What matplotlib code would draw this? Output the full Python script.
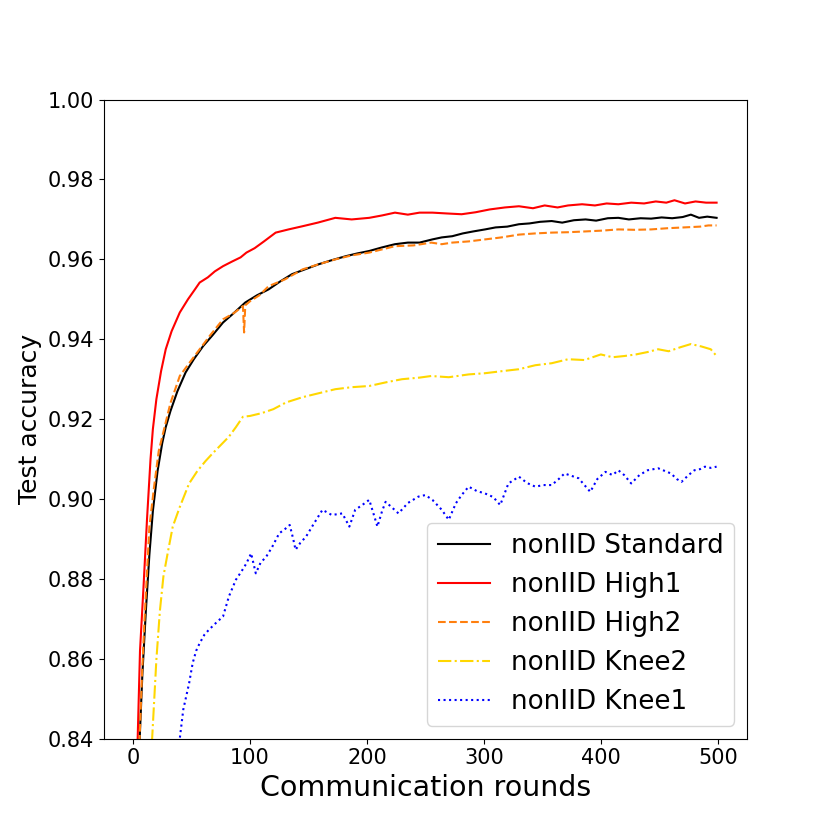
import matplotlib
matplotlib.use("Agg")
import matplotlib.pyplot as plt

# values (round, test accuracy)
std_rounds = [1, 5, 8, 11, 14, 17, 21, 25, 28, 32, 38, 45, 52, 60, 68, 77, 86, 96, 106, 116, 126, 136, 147, 159, 170, 182, 192, 202, 213, 224, 235, 245, 256, 264, 273, 282, 291, 301, 310, 320, 330, 339, 348, 358, 367, 377, 387, 396, 406, 415, 424, 434, 443, 452, 461, 470, 477, 484, 491, 499]
std_acc = [0.78, 0.835, 0.856, 0.872, 0.886, 0.897, 0.907, 0.914, 0.918, 0.922, 0.927, 0.9317, 0.935, 0.9383, 0.941, 0.9442, 0.9465, 0.9492, 0.951, 0.9525, 0.9545, 0.9563, 0.9575, 0.9588, 0.9598, 0.9608, 0.9615, 0.9621, 0.963, 0.9638, 0.9642, 0.9642, 0.965, 0.9655, 0.9658, 0.9665, 0.967, 0.9675, 0.968, 0.9682, 0.9688, 0.969, 0.9694, 0.9696, 0.9692, 0.9698, 0.970, 0.9697, 0.9703, 0.9704, 0.9700, 0.9703, 0.9702, 0.9705, 0.9703, 0.9706, 0.9712, 0.9704, 0.9707, 0.9704]

high1_rounds = [1, 4, 6, 9, 12, 15, 17, 20, 24, 28, 33, 40, 47, 53, 57, 64, 70, 77, 85, 92, 97, 104, 112, 122, 133, 145, 158, 173, 187, 202, 213, 224, 235, 245, 256, 268, 281, 293, 305, 318, 330, 342, 352, 363, 372, 384, 395, 405, 415, 426, 437, 447, 456, 463, 472, 481, 490, 499]
high1_acc = [0.79, 0.84, 0.862, 0.878, 0.895, 0.910, 0.9175, 0.925, 0.932, 0.9375, 0.942, 0.9467, 0.950, 0.9525, 0.9542, 0.9555, 0.957, 0.9583, 0.9595, 0.9605, 0.9617, 0.9628, 0.9645, 0.9667, 0.9675, 0.9683, 0.9692, 0.9704, 0.9700, 0.9704, 0.9710, 0.9717, 0.9712, 0.9717, 0.9717, 0.9715, 0.9713, 0.9718, 0.9725, 0.9730, 0.9733, 0.9728, 0.9735, 0.9730, 0.9735, 0.9738, 0.9735, 0.9740, 0.9738, 0.9742, 0.9740, 0.9745, 0.9742, 0.9748, 0.9740, 0.9745, 0.9742, 0.9742]

high2_rounds = [1, 5, 8, 10, 14, 18, 22, 27, 32, 40, 48, 57, 66, 77, 86, 94, 95, 96, 100, 108, 116, 130, 145, 159, 173, 187, 202, 213, 224, 240, 255, 264, 273, 287, 301, 315, 330, 344, 358, 372, 387, 401, 415, 429, 443, 457, 471, 485, 492, 499]
high2_acc = [0.76, 0.835, 0.858, 0.8706, 0.893, 0.903, 0.912, 0.918, 0.924, 0.9308, 0.934, 0.9375, 0.941, 0.945, 0.9465, 0.9483, 0.9417, 0.9485, 0.9495, 0.951, 0.9533, 0.955, 0.9575, 0.9588, 0.960, 0.961, 0.9617, 0.9625, 0.9633, 0.9635, 0.9642, 0.9638, 0.9642, 0.9645, 0.965, 0.9655, 0.9662, 0.9665, 0.9667, 0.9668, 0.967, 0.9672, 0.9675, 0.9674, 0.9675, 0.9678, 0.968, 0.9682, 0.9685, 0.9685]

knee2_rounds = [1, 10, 16, 20, 23, 26, 30, 34, 40, 48, 55, 62, 68, 75, 82, 88, 94, 100, 110, 120, 131, 145, 159, 173, 187, 202, 216, 230, 245, 255, 270, 287, 301, 315, 330, 344, 358, 372, 386, 400, 410, 420, 430, 440, 449, 458, 468, 477, 486, 494, 499]
knee2_acc = [0.70, 0.80, 0.838, 0.8598, 0.872, 0.8806, 0.887, 0.8931, 0.898, 0.9039, 0.907, 0.9095, 0.9114, 0.9135, 0.9156, 0.918, 0.9206, 0.9208, 0.9215, 0.9225, 0.9242, 0.9255, 0.9265, 0.9275, 0.928, 0.9283, 0.9292, 0.930, 0.9304, 0.9308, 0.9305, 0.9312, 0.9315, 0.932, 0.9325, 0.9335, 0.934, 0.935, 0.9348, 0.9362, 0.9355, 0.9358, 0.9362, 0.9368, 0.9375, 0.937, 0.938, 0.9388, 0.9382, 0.9375, 0.9358]

knee1_rounds = [1, 20, 35, 40, 43, 48, 51, 54, 57, 61, 65, 71, 77, 82, 88, 93, 97, 101, 105, 109, 114, 119, 125, 130, 134, 137, 139, 143, 148, 155, 162, 170, 179, 185, 190, 196, 202, 206, 209, 213, 216, 221, 227, 235, 244, 250, 256, 264, 270, 276, 281, 287, 294, 301, 308, 314, 321, 330, 337, 344, 351, 358, 364, 369, 375, 381, 386, 391, 397, 404, 410, 415, 420, 426, 433, 440, 449, 455, 460, 465, 469, 475, 480, 485, 489, 494, 499]
knee1_acc = [0.70, 0.78, 0.825, 0.840, 0.8473, 0.8539, 0.8589, 0.862, 0.8639, 0.866, 0.8673, 0.869, 0.8706, 0.8756, 0.8798, 0.882, 0.8839, 0.8864, 0.8814, 0.884, 0.8856, 0.888, 0.8914, 0.8925, 0.8935, 0.890, 0.8873, 0.889, 0.8906, 0.894, 0.8973, 0.896, 0.8964, 0.8931, 0.8973, 0.8985, 0.8998, 0.896, 0.8931, 0.897, 0.8993, 0.898, 0.8964, 0.899, 0.9006, 0.9010, 0.8998, 0.8973, 0.8948, 0.8989, 0.901, 0.9031, 0.902, 0.9014, 0.9005, 0.8985, 0.9039, 0.9056, 0.904, 0.9031, 0.9035, 0.9035, 0.905, 0.9064, 0.9058, 0.9052, 0.9035, 0.9018, 0.905, 0.9068, 0.906, 0.9072, 0.906, 0.9039, 0.906, 0.9072, 0.9077, 0.907, 0.9064, 0.905, 0.9043, 0.906, 0.9072, 0.9075, 0.9081, 0.9078, 0.9081]

fig, ax = plt.subplots(figsize=(8.3, 8.3), dpi=100)

ax.plot(std_rounds, std_acc, color='black', linestyle='-', linewidth=1.5, label='nonIID Standard')
ax.plot(high1_rounds, high1_acc, color='red', linestyle='-', linewidth=1.5, label='nonIID High1')
ax.plot(high2_rounds, high2_acc, color='#ff7f0e', linestyle='--', linewidth=1.5, label='nonIID High2')
ax.plot(knee2_rounds, knee2_acc, color='gold', linestyle='-.', linewidth=1.5, label='nonIID Knee2')
ax.plot(knee1_rounds, knee1_acc, color='blue', linestyle=':', linewidth=1.5, label='nonIID Knee1')

ax.set_xlim(-25, 525)
ax.set_ylim(0.84, 1.0)
ax.tick_params(labelsize=15)
ax.set_xlabel('Communication rounds', fontsize=20.5)
ax.set_ylabel('Test accuracy', fontsize=18)
ax.legend(loc='lower right', fontsize=18.8)

plt.savefig("out.png")
